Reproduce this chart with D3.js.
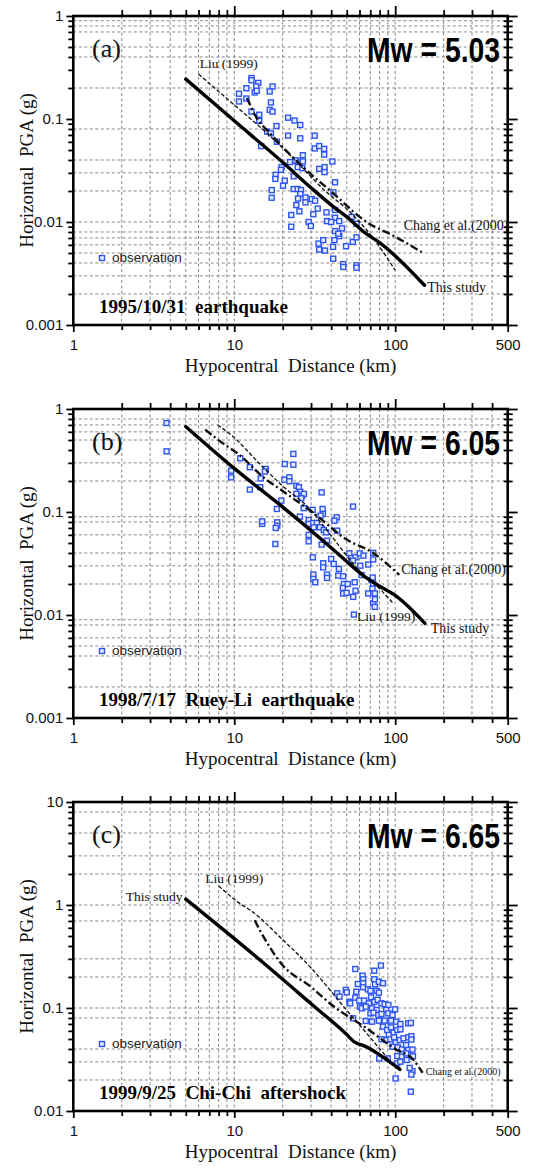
<!DOCTYPE html>
<html>
<head>
<meta charset="utf-8">
<script src="https://cdn.jsdelivr.net/npm/d3@7"></script>
<style>
body { margin: 0; background: #fff; }
svg { display: block; }
text { white-space: pre; }
</style>
</head>
<body>
<svg id="chart" width="548" height="1169"></svg>
<script>
// DATA ////////////////////////////////////////////////////////////////////////

var panelLetters = ["(a)", "(b)", "(c)"];
var magnitudes = ["Mw = 5.03", "Mw = 6.05", "Mw = 6.65"];
var eventNames = ["1995/10/31  earthquake", "1998/7/17  Ruey-Li  earthquake", "1999/9/25  Chi-Chi  aftershock"];

var xMajor = [1, 10, 100, 500];
var xMinor = [2, 3, 4, 5, 6, 7, 8, 9, 20, 30, 40, 50, 60, 70, 80, 90, 200, 300, 400];
var yMajorAB = [0.001, 0.01, 0.1, 1];
var yMajorC = [0.01, 0.1, 1, 10];
var yMinorAB = [0.002, 0.003, 0.004, 0.005, 0.006, 0.007, 0.008, 0.009,
                0.02, 0.03, 0.04, 0.05, 0.06, 0.07, 0.08, 0.09,
                0.2, 0.3, 0.4, 0.5, 0.6, 0.7, 0.8, 0.9];
var yMinorC = [0.02, 0.03, 0.04, 0.05, 0.06, 0.07, 0.08, 0.09,
               0.2, 0.3, 0.4, 0.5, 0.6, 0.7, 0.8, 0.9,
               2, 3, 4, 5, 6, 7, 8, 9];
// horizontal dashed grid lines that are present in each panel
var yGridA = [0.9, 0.8, 0.7, 0.5, 0.4, 0.2, 0.08, 0.04, 0.03, 0.02, 0.01, 0.008, 0.007, 0.006, 0.005, 0.004, 0.003, 0.002];
var yGridB = [0.8, 0.7, 0.6, 0.5, 0.3, 0.2, 0.09, 0.08, 0.06, 0.04, 0.03, 0.02, 0.009, 0.008, 0.006, 0.005, 0.004, 0.002];
var yGridC = [8, 5, 3, 2, 1, 0.7, 0.3, 0.2, 0.1, 0.08, 0.04, 0.03, 0.02];

// observations [distance km, PGA g]
var obsA = [[12.8,0.25],[12.8,0.238],[14.1,0.224],[13.7,0.207],[13.4,0.181],[13.8,0.188],[17.3,0.207],[16.6,0.185],
  [11.9,0.199],[10.7,0.176],[10.7,0.148],[11.9,0.158],[16.9,0.145],[16.6,0.123],[17.3,0.118],[12.8,0.118],
  [14.3,0.110],[14.3,0.0957],[18.3,0.0855],[21.6,0.103],[23.7,0.0966],[25.7,0.0875],[21.6,0.0689],[25.7,0.0649],
  [31.6,0.0689],[16.0,0.0754],[16.9,0.0726],[14.7,0.0546],[18.4,0.0601],[31.6,0.0518],[33.7,0.0546],[36.2,0.0513],
  [36.2,0.0452],[26.7,0.0445],[24.3,0.0392],
  [22.2,0.0382],[24.0,0.0396],[26.7,0.0387],[40.7,0.0387],[19.7,0.0341],[19.5,0.0321],[24.8,0.0341],[26.5,0.0333],
  [33.7,0.0328],[36.4,0.0341],[36.4,0.0305],[18.1,0.0287],[18.0,0.0262],[20.6,0.0252],[23.4,0.0278],[20.1,0.0225],
  [17.1,0.0204],[17.1,0.0172],[23.4,0.0209],[24.8,0.0209],[26.0,0.0204],[25.7,0.0187],[24.9,0.0169],[27.7,0.0173],
  [27.7,0.0155],[30.3,0.0167],[31.8,0.0161],[24.3,0.0146],[33.0,0.0135],[25.4,0.0127],[22.6,0.0117],[31.0,0.0119],
  [37.4,0.0124],[42.3,0.0131],[22.6,0.0090],[29.0,0.0100],[29.9,0.00914],[37.7,0.0102],[42.3,0.0110],[44.9,0.0102],
  [46.7,0.00867],[42.3,0.00816],[44.9,0.00729],[41.9,0.00667],[33.4,0.00618],[35.7,0.00667],[49.5,0.00582],
  [41.1,0.00573],[33.7,0.0054],[36.6,0.00528],[54.5,0.00641],[40.0,0.0100],[42.3,0.0243],[41.3,0.0194],
  [41.2,0.0044],[47.6,0.0039],[47.6,0.00366],[57.5,0.0038],[57.5,0.0036],[57.5,0.0071],[57.5,0.0096],
  [53.6,0.0112],[44.3,0.0077]];

var obsB = [[3.80,0.731],[3.80,0.388],[23.3,0.366],[20.6,0.292],[23.3,0.288],[10.9,0.332],[12.5,0.272],[9.57,0.252],
  [9.57,0.217],[12.5,0.165],[15.7,0.262],[15.5,0.247],[14.6,0.212],[14.5,0.174],[20.5,0.206],[22.0,0.217],
  [22.0,0.199],[24.3,0.180],[25.2,0.174],[25.7,0.157],[24.3,0.150],[26.4,0.144],[27.1,0.150],[26.1,0.136],
  [19.6,0.129],[34.9,0.155],[18.4,0.107],[27.0,0.109],[30.7,0.105],[35.4,0.107],
  [14.9,0.0766],[14.9,0.0811],[18.5,0.0794],[18.5,0.0737],[18.1,0.0700],[18.0,0.0489],[25.6,0.0902],[29.0,0.0836],
  [29.0,0.0766],[31.0,0.0782],[32.6,0.0782],[31.2,0.0710],[34.1,0.0710],[35.6,0.0957],[34.4,0.0923],[29.0,0.0598],
  [29.0,0.0519],[30.8,0.0363],[36.0,0.0668],[37.2,0.0635],[37.7,0.0527],[34.9,0.0482],[43.3,0.0888],[41.9,0.0824],
  [43.6,0.0659],[54.7,0.113],[35.7,0.0318],[35.7,0.0290],[40.0,0.0350],[41.5,0.0313],[37.7,0.0247],[37.7,0.0229],
  [31.0,0.0247],[31.0,0.0224],[31.9,0.0208],[44.7,0.0280],[44.3,0.0241],[47.5,0.0238],[48.0,0.0200],[47.3,0.0183],
  [50.7,0.0200],[56.0,0.0208],[51.9,0.0397],[53.5,0.0357],[56.7,0.0363],[60.2,0.0397],[54.7,0.0337],[60.7,0.0301],
  [63.5,0.0377],
  [47.5,0.0162],[49.9,0.0164],[54.8,0.0150],[55.4,0.0101],[61.8,0.0244],[68.0,0.0162],[71.3,0.0218],[72.3,0.0181],
  [73.0,0.0202],[73.0,0.0130],[74.8,0.0142],[74.8,0.0120],[74.8,0.0162],[72.5,0.0231],[56.7,0.0172],
  [73.0,0.0401],[73.0,0.0346],[68.0,0.0309]];

var obsC = [[81.5,0.258],[56.5,0.239],[74.1,0.230],[62.7,0.206],[63.2,0.190],[58.6,0.171],[63.2,0.174],[63.2,0.159],
  [74.1,0.190],[75.0,0.170],[79.2,0.180],[84.0,0.174],[49.3,0.150],[50.0,0.142],[57.3,0.144],[67.6,0.152],
  [70.2,0.147],[76.7,0.147],[79.2,0.141],[43.6,0.139],[45.1,0.129],[51.9,0.115],[52.5,0.111],[56.5,0.126],
  [59.8,0.118],[64.1,0.118],[68.6,0.111],[70.8,0.127],[74.3,0.115],[77.8,0.120],[82.2,0.111],[86.0,0.109],
  [90.7,0.107],[60.4,0.103],[62.1,0.0993],[65.6,0.103],[71.8,0.0993],[76.7,0.0957],[87.9,0.0957],[99.8,0.0971],
  [70.2,0.0887],[73.4,0.0901],[78.6,0.0855],[82.2,0.0875],[90.7,0.0887],[96.2,0.0855],[54.7,0.0794],[65.6,0.0748],
  [71.8,0.0737],[79.2,0.0754],[86.0,0.0754],[94.2,0.0754],[101.6,0.0737],[107.7,0.0700],[120.5,0.0710],[84.0,0.0659],
  [89.1,0.0611],[94.2,0.0649],[97.5,0.0577],[103.0,0.0611],[107.7,0.0621],[91.2,0.0547],[87.9,0.0489],[93.3,0.0497],
  [98.4,0.0519],[82.2,0.0497],[100.6,0.0461],[106.6,0.0489],[112.6,0.0508],[120.5,0.0519],[96.2,0.0421],[104.0,0.0415],
  [110.2,0.0397],[116.9,0.0437],[120.5,0.0391],[79.6,0.0324],[90.0,0.0324],[103.0,0.0342],[110.2,0.0337],[116.9,0.0363],
  [117.8,0.0313],[103.0,0.0290],[107.7,0.0301],[100.6,0.0207],
  [125,0.0716],[126,0.0532],[126,0.0494],[128,0.0395],[129,0.034],[128,0.0244],[126,0.0226],[125,0.0154],[123,0.0262]];

// attenuation curves [distance km, PGA g]
var thisStudyA = [[5,0.244],[10,0.096],[20,0.038],[30,0.0215],[41,0.0142],[50,0.0112],[66,0.0077],[80,0.0063],[97,0.0049],[152,0.00243]];
var liuA = [[6,0.273],[10,0.137],[16,0.0726],[25,0.037],[35,0.0215],[55,0.0116],[75,0.0066],[100,0.0034]];
var changA = [[12.0,0.160],[13.6,0.106],[16.7,0.0726],[22.4,0.0445],[30,0.029],[39.3,0.0203],[66.4,0.010],[100,0.0072],[146,0.0051]];

var thisStudyB = [[5,0.675],[10,0.265],[21,0.105],[41,0.0435],[55,0.029],[65,0.0234],[80,0.019],[100,0.0155],[153,0.0083]];
var liuB = [[7.9,0.70],[9.7,0.55],[14.5,0.29],[20.3,0.175],[28.5,0.113],[40,0.059],[61,0.026],[80,0.018],[97,0.013]];
var changB = [[6.6,0.63],[8.1,0.49],[10.6,0.366],[15.2,0.217],[20.8,0.153],[31,0.098],[50,0.054],[73,0.040],[106,0.0245]];

var thisStudyC = [[5,1.14],[14.4,0.294],[30,0.110],[50,0.0552],[55,0.0476],[66,0.042],[107,0.0253]];
var liuC = [[8,1.53],[10.6,1.06],[13.1,0.85],[19.2,0.49],[30,0.245],[50,0.095],[72,0.049],[92,0.031]];
var changC = [[13.4,0.71],[14.5,0.56],[16,0.43],[18.3,0.31],[20,0.26],[30,0.16],[41,0.105],[66,0.064],[100,0.040],[129,0.0316],[148,0.0235]];

// curve labels: text, x km, y g (text start, baseline), font size
var labelsA = [["Liu (1999)", 6.1, 0.31, 13.5], ["Chang et al.(2000)", 113, 0.0084, 14], ["This study", 158, 0.0021, 14]];
var labelsB = [["Chang et al.(2000)", 109, 0.0252, 14], ["Liu (1999)", 58, 0.0088, 13.5], ["This study", 166, 0.0067, 14]];
var labelsC = [["This study", 2.12, 1.10, 13.5], ["Liu (1999)", 6.6, 1.62, 13.5], ["Chang et al.(2000)", 155, 0.0223, 10]];

// LAYOUT //////////////////////////////////////////////////////////////////////

var PLOT_LEFT = 73.3, PLOT_RIGHT = 507.7, PLOT_H = 309;
var SERIF = "'Liberation Serif', 'Times New Roman', serif";
var SANS = "'Liberation Sans', Arial, sans-serif";

var svg = d3.select("#chart");

var x = d3.scaleLog().domain([1, 500]).range([PLOT_LEFT, PLOT_RIGHT]);

var panels = [
  { top: 16, domain: [0.001, 1], major: yMajorAB, minor: yMinorAB, grid: yGridA, obs: obsA,
    ts: thisStudyA, liu: liuA, chang: changA, labels: labelsA },
  { top: 409, domain: [0.001, 1], major: yMajorAB, minor: yMinorAB, grid: yGridB, obs: obsB,
    ts: thisStudyB, liu: liuB, chang: changB, labels: labelsB },
  { top: 802, domain: [0.01, 10], major: yMajorC, minor: yMinorC, grid: yGridC, obs: obsC,
    ts: thisStudyC, liu: liuC, chang: changC, labels: labelsC }
];

function fmtY(d) {
  return d >= 1 ? String(d) : d3.format("")(d);
}

function drawPanel(p, i) {
  var g = svg.append("g").attr("transform", "translate(0," + p.top + ")");
  var y = d3.scaleLog().domain(p.domain).range([PLOT_H, 0]);

  // dashed grid
  g.append("g").selectAll("line")
    .data(xMinor.concat([10, 100]))
    .enter().append("line")
      .attr("x1", function (d) { return x(d); })
      .attr("x2", function (d) { return x(d); })
      .attr("y1", 0).attr("y2", PLOT_H)
      .attr("stroke", "#7a7a7a").attr("stroke-width", 0.9)
      .attr("stroke-dasharray", "3,2.5");

  g.append("g").selectAll("line")
    .data(p.grid)
    .enter().append("line")
      .attr("x1", PLOT_LEFT).attr("x2", PLOT_RIGHT)
      .attr("y1", function (d) { return y(d); })
      .attr("y2", function (d) { return y(d); })
      .attr("stroke", "#7a7a7a").attr("stroke-width", 0.9)
      .attr("stroke-dasharray", "3,2.5");

  // observations
  g.append("g").selectAll("rect")
    .data(p.obs)
    .enter().append("rect")
      .attr("x", function (d) { return x(d[0]) - 2.5; })
      .attr("y", function (d) { return y(d[1]) - 2.5; })
      .attr("width", 5).attr("height", 5)
      .attr("fill", "#e6ebff")
      .attr("stroke", "#2f55f0").attr("stroke-width", 1.4);

  var line = d3.line()
    .x(function (d) { return x(d[0]); })
    .y(function (d) { return y(d[1]); })
    .curve(d3.curveMonotoneX);

  g.append("path").datum(p.liu)
    .attr("d", line).attr("fill", "none")
    .attr("stroke", "#111").attr("stroke-width", 1.3)
    .attr("stroke-dasharray", "4,2");

  g.append("path").datum(p.chang)
    .attr("d", line).attr("fill", "none")
    .attr("stroke", "#111").attr("stroke-width", 2.4)
    .attr("stroke-dasharray", "8,3,2,3");

  g.append("path").datum(p.ts)
    .attr("d", line).attr("fill", "none")
    .attr("stroke", "#000").attr("stroke-width", 3.4)
    .attr("stroke-linecap", "round");

  // curve labels
  g.append("g").selectAll("text")
    .data(p.labels)
    .enter().append("text")
      .attr("x", function (d) { return x(d[1]); })
      .attr("y", function (d) { return y(d[2]); })
      .style("font-family", SERIF)
      .style("font-size", function (d) { return d[3] + "px"; })
      .style("fill", "#111")
      .text(function (d) { return d[0]; });

  // AXES
  var bottom = g.append("g").attr("class", "axis").attr("transform", "translate(0," + PLOT_H + ")");
  bottom.call(d3.axisBottom(x).tickValues(xMinor).tickSize(5).tickFormat(""));
  bottom.append("g").call(d3.axisBottom(x).tickValues(xMajor).tickSize(7).tickPadding(7)
    .tickFormat(function (d) { return String(d); }));

  var top = g.append("g").attr("class", "axis");
  top.call(d3.axisTop(x).tickValues(xMinor).tickSize(6).tickFormat(""));
  top.append("g").call(d3.axisTop(x).tickValues([10, 100]).tickSize(10).tickFormat(""));

  var left = g.append("g").attr("class", "axis").attr("transform", "translate(" + PLOT_LEFT + ",0)");
  left.call(d3.axisLeft(y).tickValues(p.minor).tickSize(5).tickFormat(""));
  left.append("g").call(d3.axisLeft(y).tickValues(p.major).tickSize(7).tickPadding(3).tickFormat(fmtY));

  var right = g.append("g").attr("class", "axis").attr("transform", "translate(" + PLOT_RIGHT + ",0)");
  right.call(d3.axisRight(y).tickValues(p.minor).tickSize(5).tickFormat(""));
  right.append("g").call(d3.axisLeft(y).tickValues(p.minor).tickSize(4).tickFormat(""));
  right.append("g").call(d3.axisRight(y).tickValues(p.major).tickSize(10).tickFormat(""));

  g.selectAll(".axis path.domain").remove();
  g.selectAll(".axis line").attr("stroke", "#000").attr("stroke-width", 1.8);
  g.selectAll(".axis text")
    .style("font-family", SANS).style("font-size", "15px").style("fill", "#111");

  // frame
  g.append("rect")
    .attr("x", PLOT_LEFT).attr("y", 0)
    .attr("width", PLOT_RIGHT - PLOT_LEFT).attr("height", PLOT_H)
    .attr("fill", "none").attr("stroke", "#000").attr("stroke-width", 2.6);

  // axis titles
  g.append("text")
    .attr("x", (PLOT_LEFT + PLOT_RIGHT) / 2)
    .attr("y", PLOT_H + 47)
    .attr("text-anchor", "middle")
    .style("font-family", SERIF).style("font-size", "19px").style("fill", "#111")
    .text("Hypocentral  Distance (km)");

  g.append("text")
    .attr("transform", "translate(33," + (PLOT_H / 2) + ") rotate(-90)")
    .attr("text-anchor", "middle")
    .style("font-family", SERIF).style("font-size", "19px").style("fill", "#111")
    .text("Horizontal  PGA (g)");

  // panel letter, magnitude, event name
  g.append("text")
    .attr("x", 92).attr("y", 41)
    .style("font-family", SERIF).style("font-size", "26px").style("fill", "#111")
    .text(panelLetters[i]);

  g.append("text")
    .attr("x", 367).attr("y", 46)
    .attr("textLength", 133).attr("lengthAdjust", "spacingAndGlyphs")
    .style("font-family", SANS).style("font-size", "35px").style("font-weight", "bold").style("fill", "#000")
    .text(magnitudes[i]);

  g.append("text")
    .attr("x", 99).attr("y", 297)
    .style("font-family", SERIF).style("font-size", "19px").style("font-weight", "bold").style("fill", "#000")
    .text(eventNames[i]);

  // legend
  g.append("rect")
    .attr("x", 99.5).attr("y", 239.5).attr("width", 5).attr("height", 5)
    .attr("fill", "#e6ebff").attr("stroke", "#2f55f0").attr("stroke-width", 1.4);
  g.append("text")
    .attr("x", 112).attr("y", 246)
    .style("font-family", SANS).style("font-size", "13.5px").style("fill", "#222")
    .text("observation");
}

panels.forEach(drawPanel);
</script>
</body>
</html>
